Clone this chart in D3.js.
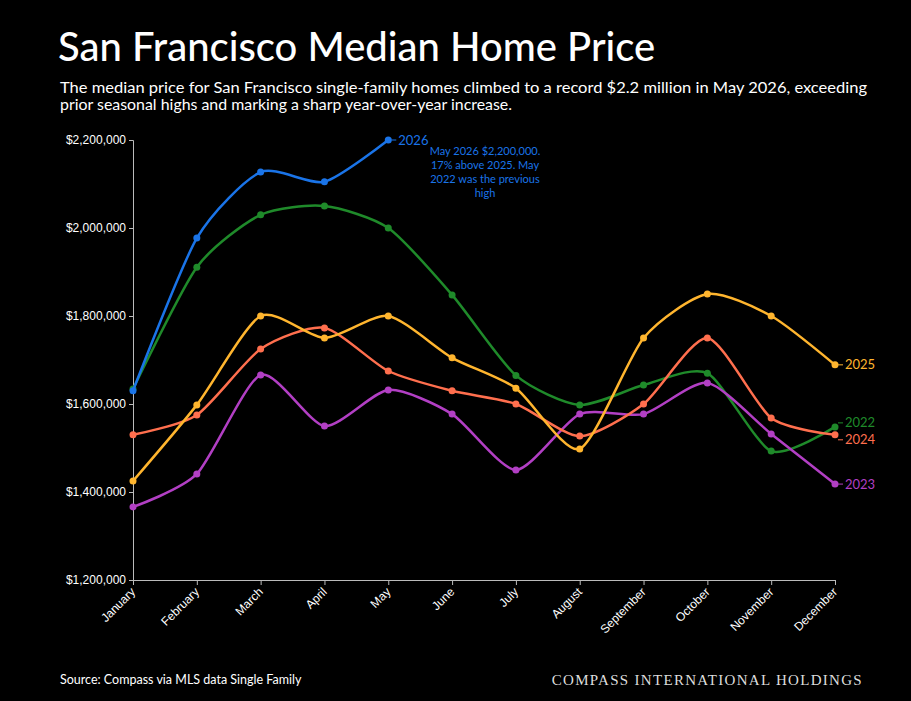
<!DOCTYPE html>
<html><head><meta charset="utf-8">
<script src="https://cdn.jsdelivr.net/npm/d3@7"></script>
<style>
body{margin:0;background:#000;}
svg{display:block;font-family:Lato,"Noto Sans",sans-serif;}
</style></head><body>
<svg width="911" height="701"></svg>
<script>
var months = ["January","February","March","April","May","June","July","August","September","October","November","December"];
var yTicks = [1200000,1400000,1600000,1800000,2000000,2200000];

var s2022 = [1634000,1911000,2030000,2050000,2000000,1848000,1665000,1598000,1643000,1670000,1493000,1548000];
var s2023 = [1366000,1441000,1666000,1550000,1632000,1577000,1450000,1577000,1577000,1648000,1532000,1418000];
var s2024 = [1530000,1575000,1725000,1773000,1675000,1630000,1600000,1527000,1600000,1750000,1568000,1530000];
var s2025 = [1425000,1598000,1800000,1750000,1800000,1705000,1636000,1498000,1750000,1850000,1800000,1689000];
var s2026 = [1630000,1977000,2127000,2105000,2200000];

var series = [
  {name:"2022", values:s2022, color:"#1f8a2a", labelDy:-4},
  {name:"2023", values:s2023, color:"#b23fc4", labelDy:0},
  {name:"2024", values:s2024, color:"#ff6f4e", labelDy:5},
  {name:"2025", values:s2025, color:"#ffb52e", labelDy:0},
  {name:"2026", values:s2026, color:"#1a74e8", labelDy:0}
];

var svg = d3.select("svg");
var x = d3.scalePoint().domain(months).range([133, 835]);
var y = d3.scaleLinear().domain([1200000, 2200000]).range([580, 140]);

svg.append("text").attr("x", 58).attr("y", 61).attr("fill", "#fff")
  .attr("font-size", 40).attr("font-weight", 500).text("San Francisco Median Home Price");
svg.append("text").attr("x", 60).attr("y", 93).attr("fill", "#fff").attr("font-size", 16.6)
  .attr("textLength", 807).attr("lengthAdjust", "spacingAndGlyphs").attr("font-size", 15.8)
  .text("The median price for San Francisco single-family homes climbed to a record $2.2 million in May 2026, exceeding");
svg.append("text").attr("x", 60).attr("y", 110).attr("fill", "#fff").attr("font-size", 15.8)
  .attr("textLength", 452).attr("lengthAdjust", "spacingAndGlyphs")
  .text("prior seasonal highs and marking a sharp year-over-year increase.");

var yAxis = svg.append("g").attr("transform", "translate(133,0)")
  .call(d3.axisLeft(y).tickValues(yTicks).tickFormat(d => "$" + d3.format(",")(d)).tickSize(4));
var xAxis = svg.append("g").attr("transform", "translate(0,580)")
  .call(d3.axisBottom(x).tickSize(5));
[yAxis, xAxis].forEach(a => {
  a.selectAll("path,line").attr("stroke", "#bbb");
  a.selectAll("text").attr("fill", "#fff").attr("font-size", 12);
});
xAxis.selectAll("text").attr("text-anchor", "end")
  .attr("transform", "translate(-6,4) rotate(-45)").attr("dy", "0.35em");

var line = d3.line().x((d, i) => x(months[i])).y(d => y(d)).curve(d3.curveCardinal.tension(0.3));

series.forEach(s => {
  var g = svg.append("g");
  g.append("path").attr("d", line(s.values)).attr("fill", "none")
    .attr("stroke", s.color).attr("stroke-width", 2.5);
  g.selectAll("circle").data(s.values).enter().append("circle")
    .attr("cx", (d, i) => x(months[i])).attr("cy", d => y(d)).attr("r", 3.5).attr("fill", s.color);
  var li = s.values.length - 1;
  var lx = x(months[li]), ly = y(s.values[li]) + s.labelDy;
  g.append("line").attr("x1", lx + 3).attr("x2", lx + 8).attr("y1", ly).attr("y2", ly).attr("stroke", s.color);
  g.append("text").attr("x", lx + 10).attr("y", ly).attr("dy", "0.35em")
    .attr("fill", s.color).attr("font-size", 13).text(s.name);
});

var note = ["May 2026 $2,200,000.", "17% above 2025. May", "2022 was the previous", "high"];
svg.append("text").attr("fill", "#1a74e8").attr("font-size", 11).attr("text-anchor", "middle")
  .selectAll("tspan").data(note).enter().append("tspan")
  .attr("x", 485).attr("y", (d, i) => 155 + i * 14).text(d => d);

svg.append("text").attr("x", 60).attr("y", 684).attr("fill", "#fff").attr("font-size", 12.5)
  .text("Source: Compass via MLS data Single Family");
svg.append("text").attr("x", 863).attr("y", 685).attr("fill", "#ddd").attr("font-size", 15)
  .attr("text-anchor", "end").attr("letter-spacing", 1.3)
  .attr("font-family", "'Liberation Serif',serif").text("COMPASS INTERNATIONAL HOLDINGS");
</script>
</body></html>
